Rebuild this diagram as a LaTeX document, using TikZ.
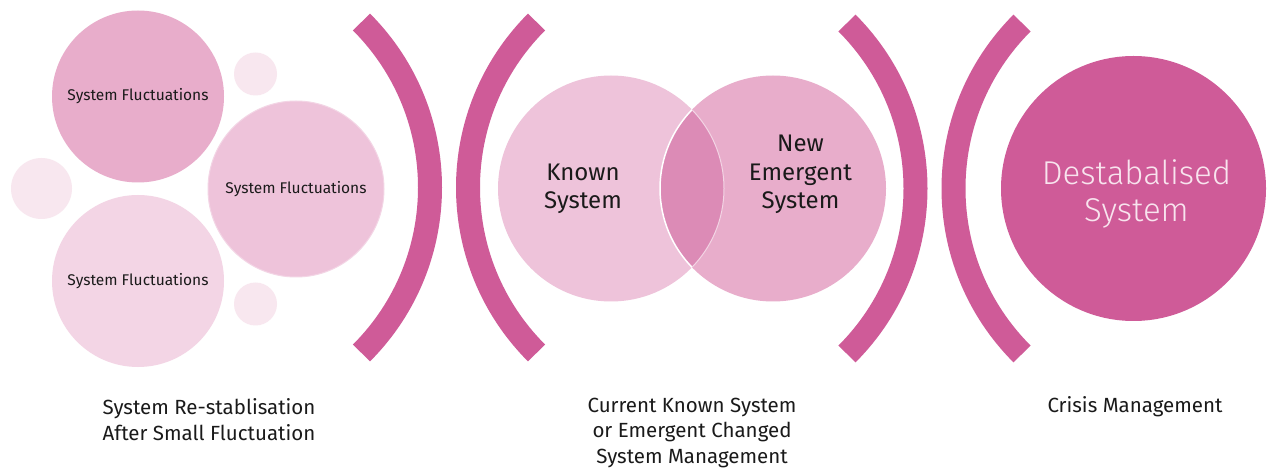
\documentclass[tikz,border=0pt]{standalone}
\usepackage{fontspec}
\setmainfont{Fira Sans}
\newfontfamily\lightfont{Fira Sans Light}
\definecolor{brk}{HTML}{CF5B98}
\definecolor{pkA}{HTML}{E8ADCB}
\definecolor{pkB}{HTML}{EEC3DA}
\definecolor{pkC}{HTML}{F3D5E5}
\definecolor{pkS}{HTML}{F8E7EF}
\definecolor{pkL}{HTML}{DC8BB6}
\definecolor{txt}{HTML}{1A1A1A}
\definecolor{wtxt}{HTML}{F8E4EE}
\tikzset{
  bubble/.style={circle, inner sep=0pt, draw=none},
  bracketarc/.style={draw=brk, line width=24pt, line cap=butt},
  smalltxt/.style={text=txt, font=\fontsize{15.5}{18}\selectfont, align=center, inner sep=0pt},
  midtxt/.style={text=txt, font=\fontsize{24}{28.5}\selectfont, align=center, inner sep=0pt},
  bigtxt/.style={text=wtxt, font=\lightfont\fontsize{33}{37}\selectfont, align=center, inner sep=0pt},
  captxt/.style={text=txt, font=\fontsize{20.5}{25.5}\selectfont, align=center, inner sep=0pt}
}
\begin{document}
\begin{tikzpicture}[x=1pt,y=-1pt]
\useasboundingbox (0,0) rectangle (1269,470);
\fill[white] (0,0) rectangle (1269,470);

% left cluster
\node[bubble, fill=pkS, minimum size=43pt] (s1) at (255.5,74) {};
\node[bubble, fill=pkS, minimum size=61pt] (s2) at (41.5,188.5) {};
\node[bubble, fill=pkS, minimum size=43pt] (s3) at (255.5,304) {};
\node[bubble, fill=pkA, minimum size=172pt] (ca) at (138,96.5) {};
\node[bubble, fill=pkC, minimum size=172pt] (cc) at (138,281) {};
\node[bubble, fill=pkB, draw=pkC, line width=1pt, minimum size=176pt] (cb) at (296,189) {};
\node[smalltxt] (ta) at (ca.center) {System Fluctuations};
\node[smalltxt] (tb) at (cb.center) {System Fluctuations};
\node[smalltxt] (tc) at (cc.center) {System Fluctuations};

% brackets
\coordinate (b1) at (196,187.5);
\coordinate (b2) at (702,187.5);
\coordinate (b3) at (681.5,188.5);
\coordinate (b4) at (1187.5,188.5);
\draw[bracketarc] ([shift={(-45:234)}]b1) arc[start angle=-45, end angle=45, radius=234];
\draw[bracketarc] ([shift={(135:234)}]b2) arc[start angle=135, end angle=225, radius=234];
\draw[bracketarc] ([shift={(-45:234)}]b3) arc[start angle=-45, end angle=45, radius=234];
\draw[bracketarc] ([shift={(135:234)}]b4) arc[start angle=135, end angle=225, radius=234];

% venn
\node[bubble, fill=pkB, minimum size=226pt] (known) at (611,188.5) {};
\node[bubble, fill=pkA, minimum size=226pt] (new) at (773,188.5) {};
\begin{scope}
  \clip (611,188.5) circle[radius=113];
  \fill[pkL] (773,188.5) circle[radius=113];
  \draw[white, line width=1.5pt] (773,188.5) circle[radius=113];
\end{scope}
\begin{scope}
  \clip (773,188.5) circle[radius=113];
  \draw[pkB!70!white, line width=1pt] (611,188.5) circle[radius=113];
\end{scope}
\node[midtxt] (tk) at (583,189) {Known\\System};
\node[midtxt] (tn) at (800.5,174.5) {New\\Emergent\\System};

% destabilised
\node[bubble, fill=brk, minimum size=265pt] (dest) at (1133.5,188.5) {};
\node[bigtxt] (td) at (1136.5,194) {Destabalised\\System};

% captions
\node[captxt] (c1) at (209,419.5) {System Re-stablisation\\After Small Fluctuation};
\node[captxt] (c2) at (692,432.5) {Current Known System\\or Emergent Changed\\System Management};
\node[captxt] (c3) at (1135,407) {Crisis Management};
\end{tikzpicture}
\end{document}
